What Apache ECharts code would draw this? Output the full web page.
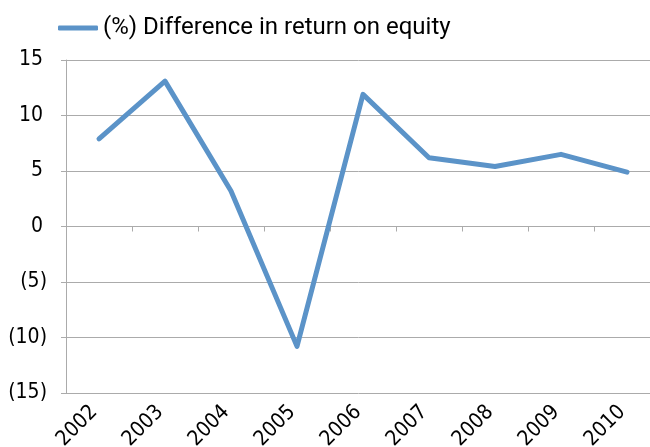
<!DOCTYPE html>
<html style="height: 100%">
<head>
	<meta charset="utf-8">
	<title></title>
	<script type="text/javascript" src="https://cdn.jsdelivr.net/npm/echarts@6/dist/echarts.min.js"></script>
</head>
<body style="height: 100%; margin: 0; background: #fff">
<div id="container" style="width: 650px; height: 447px"></div>
<script type="text/javascript">
	var years = ['2002', '2003', '2004', '2005', '2006', '2007', '2008', '2009', '2010'];
	var roeDiff = [7.9, 13.1, 3.2, -10.8, 11.9, 6.2, 5.4, 6.5, 4.9];
	var seriesName = '(%) Difference in return on equity';

	var narrow = '"Liberation Sans Narrow", "DejaVu Sans Condensed", sans-serif';
	var gridGray = '#ababab';

	var myChart = echarts.init(document.getElementById('container'));

	var option = {
		animation: false,
		legend: {
			data: [seriesName],
			left: 58,
			top: 16,
			padding: 0,
			icon: 'roundRect',
			itemWidth: 40,
			itemHeight: 5,
			textStyle: {
				fontFamily: 'Roboto, "Liberation Sans", sans-serif',
				fontSize: 24,
				color: '#000'
			}
		},
		grid: {
			left: 66,
			top: 60,
			width: 594,
			height: 333,
			outerBoundsMode: 'none'
		},
		xAxis: [
			{
				type: 'category',
				data: years,
				position: 'bottom',
				axisLine: {show: false, onZero: false},
				axisTick: {show: false},
				axisLabel: {
					interval: 0,
					rotate: 45,
					margin: 11,
					padding: [0, 7, 0, 0],
					fontFamily: narrow,
					fontSize: 21,
					color: '#000'
				}
			},
			{
				type: 'category',
				data: years,
				position: 'bottom',
				axisLine: {show: true, onZero: true, lineStyle: {color: gridGray, width: 1}},
				axisTick: {show: true, interval: 0, length: 5, lineStyle: {color: gridGray}},
				axisLabel: {show: false},
				splitLine: {show: false}
			}
		],
		yAxis: {
			type: 'value',
			min: -15,
			max: 15,
			interval: 5,
			axisLine: {show: true, lineStyle: {color: gridGray, width: 1}},
			axisTick: {show: true, length: 5, lineStyle: {color: gridGray}},
			splitLine: {show: true, lineStyle: {color: gridGray, width: 1}},
			axisLabel: {
				margin: 19,
				fontFamily: narrow,
				fontSize: 21,
				color: '#000',
				formatter: function (v) {
					if (v < 0) return '(' + (-v) + ')';
					return '{p|' + v + '}';
				},
				rich: {
					p: {
						fontFamily: narrow,
						fontSize: 21,
						color: '#000',
						padding: [0, 4, 0, 0]
					}
				}
			}
		},
		series: [
			{
				name: seriesName,
				type: 'line',
				xAxisIndex: 0,
				yAxisIndex: 0,
				data: roeDiff,
				symbol: 'none',
				color: '#5b93c8',
				lineStyle: {width: 5, color: '#5b93c8', cap: 'round', join: 'round'}
			}
		]
	};

	myChart.setOption(option);
</script>
</body>
</html>
